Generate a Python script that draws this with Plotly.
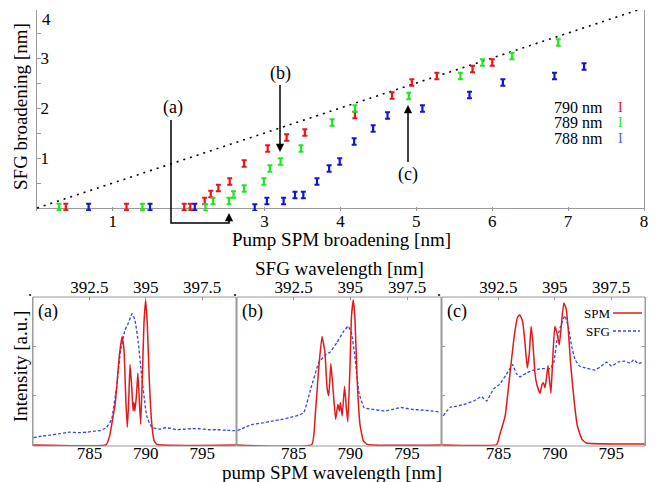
import plotly.graph_objects as go

W, H = 657, 482
FONT = "Liberation Serif, Times New Roman, serif"

# ---------------- top chart data (SFG broadening vs pump SPM broadening) -------------
red_x = [0.38, 1.18, 1.94, 2.02, 2.21, 2.29, 2.39, 2.54, 2.73, 3.04, 3.29, 3.53, 4.19, 4.68, 4.94, 5.27, 5.74, 6.00]
red_y = [0.02, 0.02, 0.02, 0.02, 0.14, 0.28, 0.40, 0.53, 0.89, 1.19, 1.41, 1.51, 1.86, 2.25, 2.51, 2.64, 2.78, 2.91]
green_x = [0.29, 1.39, 2.22, 2.32, 2.53, 2.59, 2.73, 2.99, 3.07, 3.21, 3.48, 3.89, 4.19, 4.90, 5.58, 5.87, 6.26, 6.87]
green_y = [0.02, 0.02, 0.01, 0.14, 0.14, 0.27, 0.39, 0.53, 0.79, 0.93, 1.19, 1.71, 1.99, 2.24, 2.64, 2.91, 3.04, 3.31]
blue_x = [0.68, 1.49, 2.08, 2.87, 3.03, 3.25, 3.40, 3.51, 3.69, 3.85, 3.99, 4.18, 4.43, 4.62, 5.08, 5.70, 6.14, 6.82, 7.21]
blue_y = [0.02, 0.02, 0.02, 0.01, 0.14, 0.14, 0.26, 0.26, 0.53, 0.79, 0.93, 1.33, 1.59, 1.85, 1.99, 2.26, 2.51, 2.64, 2.83]
err = 0.065
ref_x = [0, 8]
ref_y = [0, 4]
top_xticks = [0, 1, 2, 3, 4, 5, 6, 7, 8]
top_xtext = ["0", "1", "", "3", "4", "5", "6", "7", "8"]
top_yticks = [0.5, 1, 1.5, 2, 2.5, 3, 3.5]
top_ytext = ["", "1", "", "2", "", "3", ""]
legend_names = ["790 nm", "789 nm", "788 nm"]

# ---------------- bottom panels data (normalised intensity vs pump wavelength) -------------
a_spm_wl = [780, 786.5, 786.8, 787.3, 787.65, 787.9, 788.07, 788.24, 788.36, 788.48, 788.6, 788.75, 788.87,
            788.95, 789.04, 789.19, 789.3, 789.42, 789.55, 789.69, 789.84, 789.99, 790.13, 790.31, 790.52,
            790.73, 791.0, 798]
a_spm = [0, 0.01, 0.19, 0.86, 1.80, 2.20, 1.93, 0.86, 0.36, 0.86, 1.63, 1.19, 0.69, 0.86, 0.69, 1.06, 1.46,
         0.95, 0.42, 1.33, 2.47, 2.94, 2.47, 1.33, 0.46, 0.09, 0.01, 0]
a_sfg_wl = [780.03, 780.8, 781.5, 782.4, 783.3, 784.0, 784.76, 785.4, 785.9, 786.5, 786.97, 787.42, 787.77,
            788.16, 788.45, 788.78, 789.04, 789.34, 789.64, 790.08, 790.52, 791.26, 791.7, 792.15, 792.7,
            793.3, 794.0, 794.8, 795.5, 796.3, 797.1, 797.9]
a_sfg = [0.15, 0.18, 0.20, 0.23, 0.26, 0.25, 0.26, 0.28, 0.29, 0.35, 0.52, 1.19, 1.93, 2.33, 2.47, 2.66, 2.54,
         2.07, 1.39, 0.59, 0.36, 0.32, 0.35, 0.34, 0.31, 0.32, 0.33, 0.33, 0.31, 0.31, 0.30, 0.29]

b_spm_wl = [780, 786.6, 786.9, 787.2, 787.5, 787.75, 787.95, 788.1, 788.28, 788.45, 788.7, 788.9, 789.04,
            789.12, 789.28, 789.49, 789.66, 789.78, 789.96, 790.1, 790.26, 790.4, 790.6, 790.85, 791.14,
            791.5, 798]
b_spm = [0, 0.01, 0.59, 1.53, 2.20, 1.90, 1.15, 1.00, 1.65, 1.20, 0.52, 0.82, 0.69, 0.86, 0.59, 1.19, 0.72,
         0.47, 1.53, 2.60, 2.94, 2.60, 1.33, 0.42, 0.09, 0.01, 0]
b_sfg_wl = [780.03, 780.7, 781.4, 782.3, 783.2, 784.0, 784.7, 785.4, 785.9, 786.5, 787.2, 787.8, 788.2,
            788.8, 789.4, 789.8, 790.1, 790.4, 790.76, 791.2, 791.7, 792.1, 792.6, 793.0, 793.7, 794.45,
            795.0, 795.6, 796.2, 796.8, 797.85]
b_sfg = [0.29, 0.36, 0.42, 0.45, 0.49, 0.52, 0.56, 0.60, 0.66, 1.13, 1.66, 1.83, 1.88, 2.07, 2.30, 2.41,
         2.27, 1.80, 1.06, 0.76, 0.73, 0.72, 0.70, 0.69, 0.72, 0.76, 0.74, 0.72, 0.71, 0.70, 0.67]

c_spm_wl = [780, 784.85, 785.1, 785.6, 786.0, 786.4, 786.7, 786.9, 787.15, 787.36, 787.56, 787.74, 787.9,
            788.04, 788.24, 788.45, 788.7, 788.87, 789.0, 789.13, 789.28, 789.4, 789.5, 789.66, 789.8,
            790.0, 790.2, 790.4, 790.6, 790.8, 791.0, 791.2, 791.4, 791.7, 792.0, 792.4, 792.8, 798]
c_spm = [0, 0.01, 0.19, 0.59, 1.39, 2.20, 2.59, 2.64, 2.50, 2.07, 1.56, 1.86, 2.40, 2.13, 1.46, 1.19, 1.05,
         1.23, 1.26, 1.16, 1.39, 1.61, 1.39, 1.05, 1.66, 2.40, 2.27, 2.03, 2.47, 2.88, 2.77, 2.33, 1.66,
         0.93, 0.39, 0.12, 0.04, 0.02]
c_sfg_wl = [780.1, 780.7, 781.3, 781.9, 782.8, 783.5, 783.96, 784.55, 785.1, 785.7, 786.27, 786.56, 786.9,
            787.5, 788.1, 788.6, 789.0, 789.6, 789.9, 790.2, 790.5, 790.9, 791.2, 791.5, 791.8, 792.2,
            792.8, 793.56, 794.0, 794.6, 795.04, 795.6, 796.2, 796.7, 797.0, 797.4, 797.85]
c_sfg = [0.59, 0.76, 0.79, 0.82, 0.89, 0.98, 0.89, 1.13, 1.23, 1.43, 1.63, 1.46, 1.38, 1.46, 1.52, 1.54,
         1.55, 1.55, 1.66, 2.13, 2.40, 2.62, 2.40, 2.00, 1.73, 1.60, 1.56, 1.52, 1.58, 1.68, 1.60, 1.68,
         1.70, 1.66, 1.73, 1.65, 1.68]

pump_ticks = [785, 790, 795]
sfg_ticks = [392.5, 395, 397.5]
panel_names = ["(a)", "(b)", "(c)"]

RED_PT, GREEN_PT, BLUE_PT = "#e8141c", "#1ee61e", "#1414d2"
RED_LN, BLUE_LN = "#e01a1a", "#3344ee"
FRAME = "#9a9a9a"


def px(x):
    return x / W


def py(y):
    return 1 - y / H


fig = go.Figure()

# ----- top chart -----
fig.add_trace(go.Scatter(x=ref_x, y=ref_y, mode="lines", xaxis="x", yaxis="y",
                         line=dict(color="black", width=1.6, dash="2px,5px"), showlegend=False))
for xs, ys, col in [(red_x, red_y, RED_PT), (green_x, green_y, GREEN_PT), (blue_x, blue_y, BLUE_PT)]:
    fig.add_trace(go.Scatter(x=xs, y=ys, mode="markers", xaxis="x", yaxis="y", cliponaxis=False,
                             marker=dict(color="rgba(0,0,0,0)", size=2),
                             error_y=dict(type="constant", value=err, color=col, thickness=2.2, width=2.5),
                             showlegend=False))

# ----- bottom panels -----
panels = [(a_spm_wl, a_spm, a_sfg_wl, a_sfg), (b_spm_wl, b_spm, b_sfg_wl, b_sfg), (c_spm_wl, c_spm, c_sfg_wl, c_sfg)]
for i, (sw, s, fw, f) in enumerate(panels):
    xa, ya = f"x{i+2}", f"y{i+2}"
    fig.add_trace(go.Scatter(x=fw, y=f, mode="lines", xaxis=xa, yaxis=ya,
                             line=dict(color=BLUE_LN, width=1.3, dash="3px,2px", shape="spline", smoothing=0.3),
                             showlegend=False))
    fig.add_trace(go.Scatter(x=sw, y=s, mode="lines", xaxis=xa, yaxis=ya,
                             line=dict(color=RED_LN, width=1.5, shape="spline", smoothing=0.35),
                             showlegend=False))

tickfont = dict(family=FONT, size=17, color="black")
layout = dict(
    width=W, height=H, margin=dict(l=0, r=0, t=0, b=0, pad=0), autosize=False,
    paper_bgcolor="white", plot_bgcolor="white", showlegend=False,
    font=dict(family=FONT, color="black"),
    xaxis=dict(domain=[px(37), px(644)], anchor="y", range=[0, 8], tickvals=top_xticks, ticktext=top_xtext,
               ticks="inside", ticklen=4, tickcolor=FRAME, showline=False, ticklabelstandoff=-2,
               showgrid=False, zeroline=False, tickfont=tickfont, automargin=False),
    yaxis=dict(domain=[py(211), py(10)], anchor="x", range=[-0.06, 3.96], tickvals=top_yticks, ticktext=top_ytext,
               ticks="inside", ticklen=4, tickcolor=FRAME, ticklabelposition="inside",
               showline=True, linecolor=FRAME, mirror=True, showgrid=False,
               zeroline=True, zerolinecolor=FRAME, zerolinewidth=1, tickfont=tickfont, automargin=False),
)
doms = [(33, 236), (237, 441), (442, 645)]
shapes = []
for i, (l, r) in enumerate(doms):
    n = i + 2
    # bottom (pump wavelength) axis: labels only
    layout[f"xaxis{n}"] = dict(domain=[px(l), px(r)], anchor="free", position=py(447), range=[780, 798],
                               tickvals=pump_ticks, ticks="", showline=False, showgrid=False, zeroline=False,
                               tickfont=tickfont, ticklabelstandoff=-6, automargin=False)
    layout[f"yaxis{n}"] = dict(domain=[py(446), py(297)], anchor=f"x{n}", range=[-0.02, 3.0],
                               tickvals=[1, 2], showticklabels=False,
                               ticks="inside" if i != 1 else "", ticklen=3, tickcolor=FRAME,
                               showline=True, linecolor=FRAME, mirror="ticks" if i == 2 else True,
                               side="left", showgrid=False, zeroline=False, automargin=False)
    layout[f"xaxis{n+3}"] = dict(overlaying=f"x{n}", anchor=f"y{n}", side="top", range=[390, 399],
                                 tickvals=sfg_ticks, ticktext=["392.5", "395", "397.5"],
                                 ticks="inside", ticklen=3, tickcolor=FRAME,
                                 showgrid=False, zeroline=False, showline=False, tickfont=tickfont,
                                 automargin=False)
    shapes.append(dict(type="rect", xref=f"x{n} domain", yref=f"y{n} domain", x0=0, x1=1, y0=0, y1=1,
                       line=dict(color=FRAME, width=1), layer="above"))
fig.update_layout(**layout)

# invisible traces so the top axes are drawn
for i in range(3):
    fig.add_trace(go.Scatter(x=[390, 399], y=[0, 0], mode="markers", xaxis=f"x{i+5}", yaxis=f"y{i+2}",
                             marker=dict(opacity=0), hoverinfo="skip", showlegend=False))

ann = []


def text(x, y, s, size=19, xanchor="center", color="black", angle=0):
    ann.append(dict(x=px(x), y=py(y), xref="paper", yref="paper", text=s, showarrow=False,
                    xanchor=xanchor, yanchor="middle", textangle=angle,
                    font=dict(family=FONT, size=size, color=color)))


# titles
text(341, 239, "Pump SPM broadening [nm]", 19)
text(20, 107, "SFG broadening [nm]", 19, angle=-90)
text(339, 268, "SFG wavelength [nm]", 19)
text(332, 472, "pump SPM wavelength [nm]", 19)
text(20, 367, "Intensity [a.u.]", 19, angle=-90)
text(46, 20, "4", 17)
# legend top
for k, (nm, col) in enumerate(zip(legend_names, [RED_PT, GREEN_PT, "#4a66ee"])):
    text(552, 108 + 15 * k, nm, 16, xanchor="left")
    text(620, 108 + 15 * k, "I", 14, color=col)
# panel labels
for (l, r), nm in zip(doms, panel_names):
    text(l + 15, 311, nm, 18)
# stray dots of the top tick row
for xd in [30, 235, 439]:
    text(xd, 290, ".", 16)
# panel (c) legend
text(612, 313, "SPM", 13, xanchor="right")
text(612, 331, "SFG", 13, xanchor="right")

# (a),(b),(c) arrows
text(173, 107, "(a)", 18)
ann.append(dict(x=px(280), y=py(152), xref="paper", yref="paper", text="(b)", ax=0, ay=-79,
                showarrow=True, arrowhead=2, arrowsize=1.1, arrowwidth=1.5, arrowcolor="black",
                font=dict(family=FONT, size=18)))
ann.append(dict(x=px(408), y=py(105), xref="paper", yref="paper", text="(c)", ax=0, ay=69,
                showarrow=True, arrowhead=2, arrowsize=1.1, arrowwidth=1.5, arrowcolor="black",
                font=dict(family=FONT, size=18)))
ann.append(dict(x=px(229), y=py(213), xref="paper", yref="paper", text="", ax=0, ay=10,
                showarrow=True, arrowhead=2, arrowsize=1.1, arrowwidth=1.5, arrowcolor="black"))
fig.update_layout(annotations=ann)

shapes += [
    dict(type="path", xref="paper", yref="paper",
         path=f"M{px(171)},{py(120)} L{px(171)},{py(223)} L{px(229)},{py(223)} L{px(229)},{py(215)}",
         line=dict(color="black", width=1.5)),
    dict(type="line", xref="paper", yref="paper", x0=px(613), x1=px(642), y0=py(313), y1=py(313),
         line=dict(color=RED_LN, width=1.5)),
    dict(type="line", xref="paper", yref="paper", x0=px(613), x1=px(640), y0=py(331), y1=py(331),
         line=dict(color=BLUE_LN, width=1.3, dash="3px,2px")),
]
fig.update_layout(shapes=shapes)

fig.write_html("out.html", config={"displayModeBar": False},
               post_script="document.body.style.margin='0px';document.body.style.padding='0px';")
